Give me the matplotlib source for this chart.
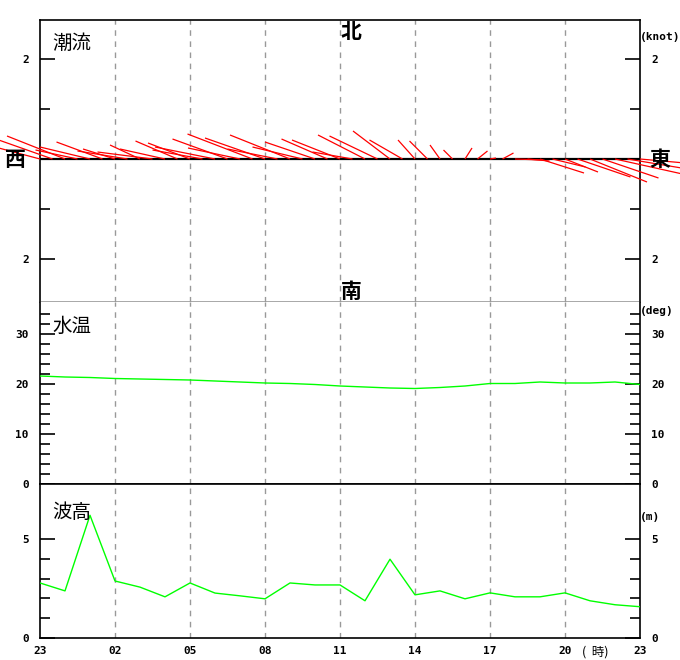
import matplotlib
matplotlib.use("Agg")
import matplotlib.pyplot as plt
import numpy as np

# ---------------- data ----------------
hour_labels = ["23", "02", "05", "08", "11", "14", "17", "20", "23"]
hour_ticks = [0, 3, 6, 9, 12, 15, 18, 21, 24]

# tidal current every 30 min (knots): east (+) / north (+) components
cur_u = [-1.20, -1.36, -1.16, -0.84, -1.00, -0.92, -0.64, -1.00, -0.60, -1.10,
         -0.90, -0.84, -0.84, -1.00, -1.20, -1.10, -1.04, -1.30, -1.20, -1.00,
         -1.20, -1.00, -1.00, -0.92, -0.96, -0.80, -0.94, -0.96, -0.74, -0.66,
         -0.34, -0.36, -0.20, -0.18, 0.14, 0.20, 0.12, 0.22, 0.56, 0.44,
         0.88, 0.66, 0.66, 1.06, 1.14, 1.12, 1.44, 1.20, 0.90]
cur_v = [0.32, 0.48, 0.46, 0.18, 0.24, 0.34, 0.20, 0.16, 0.28, 0.14,
         0.20, 0.36, 0.32, 0.18, 0.24, 0.40, 0.22, 0.50, 0.42, 0.20,
         0.48, 0.24, 0.34, 0.40, 0.38, 0.14, 0.48, 0.46, 0.56, 0.38,
         0.38, 0.36, 0.28, 0.18, 0.22, 0.16, 0.02, 0.12, -0.02, -0.04,
         -0.28, -0.16, -0.26, -0.36, -0.46, -0.38, -0.32, -0.20, -0.08]

# water temperature hourly (deg)
water_temp = [21.6, 21.4, 21.3, 21.1, 21.0, 20.9, 20.8, 20.6, 20.4, 20.2,
              20.1, 19.9, 19.6, 19.4, 19.2, 19.1, 19.3, 19.6, 20.1, 20.1,
              20.4, 20.2, 20.2, 20.4, 19.9]

# wave height hourly (m)
wave_h = [2.78, 2.38, 6.2, 2.88, 2.57, 2.08, 2.78, 2.27, 2.13, 1.98,
          2.78, 2.68, 2.68, 1.88, 3.98, 2.18, 2.38, 1.98, 2.28, 2.08,
          2.08, 2.28, 1.88, 1.68, 1.58]

# ---------------- figure ----------------
W, H = 680, 660
fig = plt.figure(figsize=(W / 100, H / 100), dpi=100)
cjk = ["Noto Sans CJK JP", "DejaVu Sans"]
mono = dict(family="DejaVu Sans Mono", weight="bold", size=8)


def axes_px(x0, y0, x1, y1):
    return fig.add_axes([x0 / W, 1 - y1 / H, (x1 - x0) / W, (y1 - y0) / H])


def ftext(x, y, s, **kw):
    fig.text(x / W, 1 - y / H, s, **kw)


ax1 = axes_px(40, 20, 640, 302)
ax2 = axes_px(40, 302, 640, 484)
ax3 = axes_px(40, 484, 640, 638)

grid_kw = dict(color="#999999", lw=1, ls=(0, (4, 4)), zorder=1)

for ax in (ax1, ax2, ax3):
    ax.set_xlim(0, 24)
    for t in hour_ticks[1:-1]:
        ax.axvline(t, **grid_kw)
    for sp in ax.spines.values():
        sp.set_color("black")
        sp.set_linewidth(1.2)
    ax.tick_params(axis="y", which="both", direction="in", left=True, right=True,
                   labelleft=True, labelright=True, width=1.2, pad=8)
    ax.tick_params(axis="y", which="major", length=10.5)
    ax.tick_params(axis="y", which="minor", length=7)
    ax.tick_params(axis="x", which="both", length=0)
    ax.set_xticks([])

# ---- current panel ----
ax1.set_ylim(-2.86, 2.78)
ax1.axhline(0, color="black", lw=1.6, zorder=2)
t_half = np.arange(len(cur_u)) * 0.5
for t, u, v in zip(t_half, cur_u, cur_v):
    ax1.plot([t, t + u * 2.0], [0, v], color="red", lw=0.9, zorder=3,
             clip_on=False, solid_capstyle="butt")
ax1.set_yticks([-2, 2])
ax1.set_yticklabels(["2", "2"])
ax1.set_yticks([-1, 1], minor=True)
ax1.spines["bottom"].set_color("#999999")

# ---- temperature panel ----
ax2.set_ylim(0, 36.4)
ax2.plot(range(len(water_temp)), water_temp, color="#00ff00", lw=1, zorder=3)
ax2.set_yticks([0, 10, 20, 30])
ax2.set_yticks(np.arange(2, 36, 2), minor=True)
ax2.spines["top"].set_visible(False)

# ---- wave panel ----
ax3.set_ylim(0, 7.78)
ax3.plot(range(len(wave_h)), wave_h, color="#00ff00", lw=1, zorder=3)
ax3.set_yticks([0, 5])
ax3.set_yticks([1, 2, 3, 4], minor=True)
ax3.set_xticks(hour_ticks)
ax3.set_xticklabels(hour_labels)
ax3.tick_params(axis="x", length=0, pad=6)

for ax in (ax1, ax2, ax3):
    for lab in ax.get_yticklabels() + ax.get_xticklabels():
        lab.set_fontfamily("DejaVu Sans Mono")
        lab.set_fontweight("bold")
        lab.set_fontsize(8)

# ---- texts ----
ftext(52, 43, "潮流", family=cjk, fontsize=14, va="center", ha="left")
ftext(52, 326, "水温", family=cjk, fontsize=14, va="center", ha="left")
ftext(52, 513, "波高", family=cjk, fontsize=14, va="center", ha="left")
ftext(351, 31, "北", family=cjk, fontsize=15, weight="bold", va="center", ha="center")
ftext(351, 291, "南", family=cjk, fontsize=15, weight="bold", va="center", ha="center")
ftext(15, 160, "西", family=cjk, fontsize=15, weight="bold", va="center", ha="center")
ftext(660, 160, "東", family=cjk, fontsize=15, weight="bold", va="center", ha="center")
ftext(640, 37, "(knot)", va="center", ha="left", **mono)
ftext(640, 311, "(deg)", va="center", ha="left", **mono)
ftext(640, 517, "(m)", va="center", ha="left", **mono)
ftext(595, 652, "(  時)", family=["Noto Sans CJK JP", "DejaVu Sans"], fontsize=9,
      va="center", ha="center")

fig.savefig("out.png", dpi=100)
